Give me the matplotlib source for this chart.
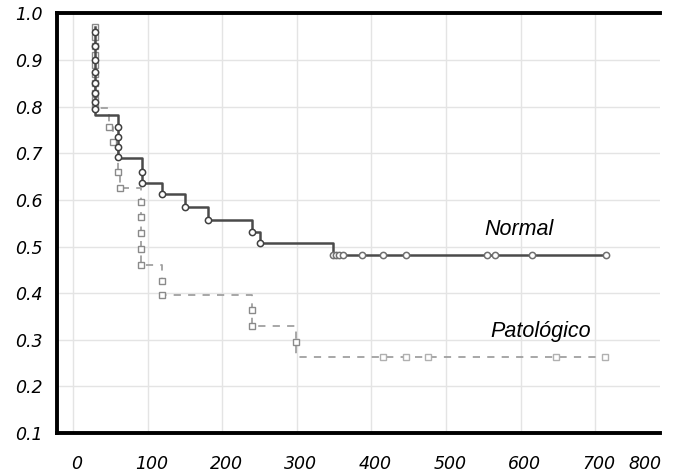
import numpy as np
import matplotlib
matplotlib.use('Agg')
import matplotlib.pyplot as plt
from matplotlib import transforms

# ---- datos ----
# Normal: tiempos de evento y supervivencia despues de cada caida
normal_t = [30, 60, 92, 120, 150, 181, 240, 251, 348]
normal_s = [0.783, 0.689, 0.637, 0.613, 0.585, 0.558, 0.532, 0.508, 0.482]
normal_s0 = 0.97
normal_end = 714
# marcadores sobre las caidas
normal_mk_t = [30, 30, 30, 30, 30, 30, 30, 30,
               60, 60, 60, 60, 92, 92, 120, 150, 181, 240, 251]
normal_mk_s = [0.96, 0.93, 0.90, 0.875, 0.85, 0.83, 0.81, 0.795,
               0.757, 0.736, 0.714, 0.693, 0.659, 0.637, 0.613, 0.585, 0.558, 0.532, 0.508]
# censurados en el ultimo nivel
normal_cens = [348, 352, 356, 362, 387, 415, 446, 555, 566, 615, 714]

# Patologico
pat_t = [30, 48, 54, 60, 63, 91, 120, 240, 299]
pat_s = [0.798, 0.757, 0.725, 0.659, 0.626, 0.461, 0.396, 0.330, 0.263]
pat_s0 = 0.97
pat_end = 714
pat_mk_t = [30, 30, 30, 30, 30, 30, 30, 30, 30, 30,
            48, 54, 60, 63, 91, 91, 91, 91, 91, 120, 120, 240, 240, 299]
pat_mk_s = [0.97, 0.95, 0.93, 0.91, 0.89, 0.87, 0.85, 0.83, 0.815, 0.80,
            0.757, 0.725, 0.659, 0.626, 0.596, 0.564, 0.530, 0.495, 0.461,
            0.427, 0.396, 0.364, 0.330, 0.296]
pat_cens = [415, 446, 476, 647, 713]

xticks = [0, 100, 200, 300, 400, 500, 600, 700]
yticks = [0.1, 0.2, 0.3, 0.4, 0.5, 0.6, 0.7, 0.8, 0.9, 1.0]


def escalones(t, s, s0, tend):
    # curva escalonada de Kaplan-Meier
    xs = [t[0]]
    ys = [s0]
    prev = s0
    for ti, si in zip(t, s):
        xs += [ti, ti]
        ys += [prev, si]
        prev = si
    xs.append(tend)
    ys.append(prev)
    return xs, ys


fig = plt.figure(figsize=(6.78, 4.75), dpi=100)
ax = fig.add_axes([0.0841, 0.0884, 0.8894, 0.8832])

c_norm = '#4a4a4a'
c_pat = '#a0a0a0'

xn, yn = escalones(normal_t, normal_s, normal_s0, normal_end)
xp, yp = escalones(pat_t, pat_s, pat_s0, pat_end)

ax.plot(xp, yp, color=c_pat, lw=1.3, ls=(0, (4, 4)), zorder=2)
ax.plot(pat_mk_t, pat_mk_s, ls='none', marker='s', ms=4.5, mfc='white',
        mec='#8a8a8a', mew=1.0, zorder=3)
ax.plot(pat_cens, [pat_s[-1]] * len(pat_cens), ls='none', marker='s', ms=4.5,
        mfc='white', mec='#b0b0b0', mew=1.0, zorder=3)

ax.plot(xn, yn, color=c_norm, lw=1.8, zorder=4)
ax.plot(normal_mk_t, normal_mk_s, ls='none', marker='o', ms=4.5, mfc='white',
        mec='#404040', mew=1.1, zorder=5)
ax.plot(normal_cens, [normal_s[-1]] * len(normal_cens), ls='none', marker='o',
        ms=4.5, mfc='white', mec='#707070', mew=1.1, zorder=5)

ax.set_xlim(-21.4, 787)
ax.set_ylim(0.1, 1.0)

ax.set_xticks(xticks)
ax.set_xticklabels([str(v) for v in xticks])
ax.set_yticks(yticks)
ax.set_yticklabels(['%.1f' % v for v in yticks])
ax.grid(True, color='#e4e4e4', lw=1.0)
ax.set_axisbelow(True)

xpad = 16
ax.tick_params(axis='both', length=0, labelsize=12.5)
ax.tick_params(axis='x', pad=xpad)
ax.tick_params(axis='y', pad=10)
for lab in ax.get_xticklabels() + ax.get_yticklabels():
    lab.set_fontstyle('italic')
# etiquetas del eje x algo desplazadas a la derecha
off = transforms.ScaledTranslation(4 / 100, 0, fig.dpi_scale_trans)
for lab in ax.get_xticklabels():
    lab.set_transform(lab.get_transform() + off)
# la etiqueta 800 queda apretada junto al borde derecho
trans = transforms.blended_transform_factory(ax.transData, ax.transAxes)
down = transforms.ScaledTranslation(0, -xpad / 72, fig.dpi_scale_trans)
ax.text(767, 0, '800', transform=trans + down, ha='center', va='top',
        fontsize=12.5, fontstyle='italic')

for side in ['left', 'bottom', 'top']:
    ax.spines[side].set_linewidth(2.8)
    ax.spines[side].set_color('black')
ax.spines['right'].set_visible(False)

ax.text(552, 0.525, 'Normal', fontsize=15.5, fontstyle='italic',
        family='Liberation Sans', ha='left', va='baseline')
ax.text(559, 0.306, 'Patológico', fontsize=15.5, fontstyle='italic',
        family='Liberation Sans', ha='left', va='baseline')

plt.savefig('out.png', dpi=100)
